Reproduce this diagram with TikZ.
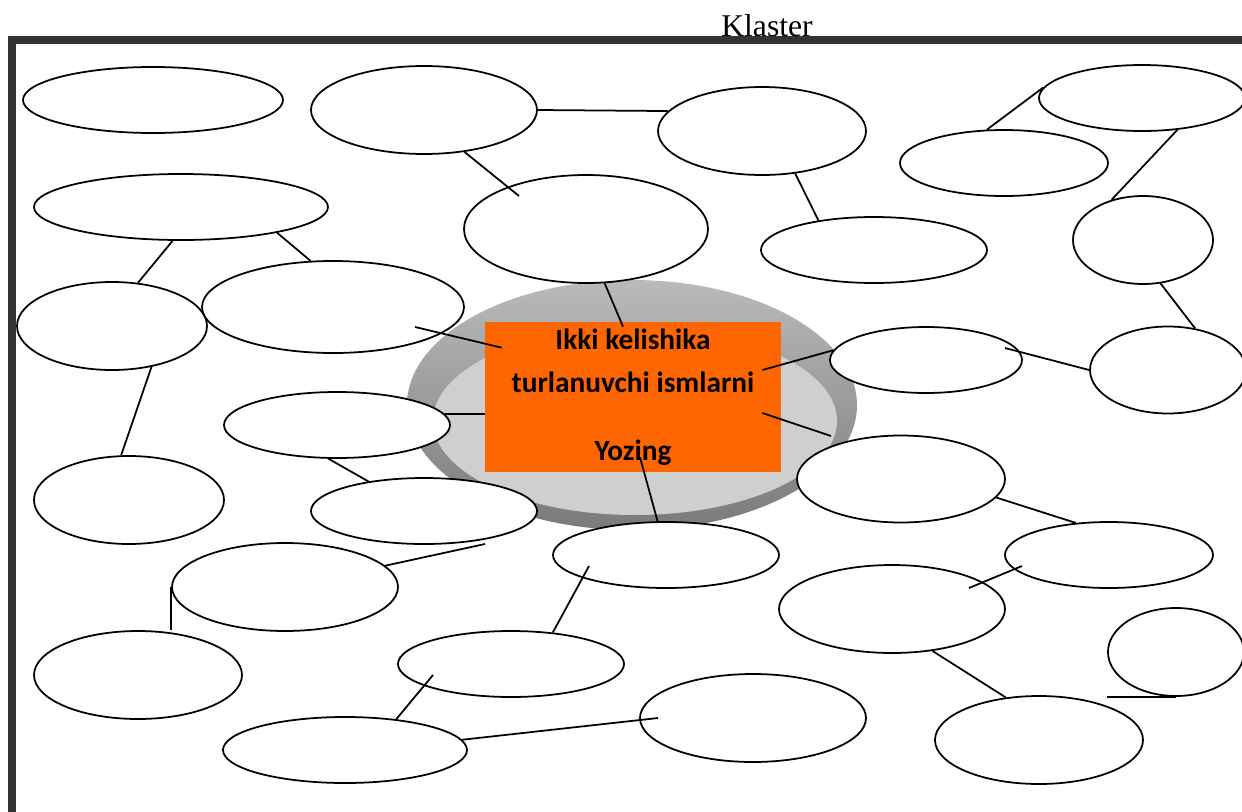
\documentclass[tikz,border=0pt]{standalone}
\usepackage{fontspec}
\setmainfont{Liberation Serif}
\newfontfamily\taskfont{Carlito}
\usetikzlibrary{shapes.geometric}
\definecolor{taskorange}{HTML}{FF6600}
\begin{document}
\begin{tikzpicture}[%
                x=0.02cm, y=-0.02cm,
                myoval/.style 2 args={shape=ellipse, draw, fill=white, line width=1pt, inner sep=0pt,
                    minimum width=#1*0.02cm, minimum height=#2*0.02cm},
                mytask/.style={shape=rectangle, fill=taskorange, inner sep=0pt,
                    minimum width=296*0.02cm, minimum height=150*0.02cm, align=center,
                    font=\taskfont\bfseries\fontsize{16.7}{24.5}\selectfont},
                mylink/.style={line width=1pt}
            ]
            \useasboundingbox (0,0) rectangle (1242,812);
            \clip (0,0) rectangle (1242,812);
            \draw [line width=4.3pt, color=black!80] (12,40) rectangle (1262,840);
            \node [font=\fontsize{18}{20}\selectfont, anchor=base, inner sep=0pt] (title) at (767,36) {Klaster};
            % the dish behind the task
            \draw [top color=black!27, bottom color=black!52, draw=none] (632,405) ellipse [x radius=225, y radius=125];
            \fill [black!19] (635,421) ellipse [x radius=202, y radius=94];
            % empty ovals
            \foreach \myname/\myx/\myy/\myw/\myh in {b1/153/100/260/66, b2/424/110/226/88, b3/762/131/208/88,
                    b4/1142/98/206/66, b5/1004/163/208/66, b6/181/207/294/66, b7/586/229/244/108,
                    b8/874/250/226/66, b9/1143/240/140/88, b10/112/326/190/88, b11/333/307/262/92,
                    b12/926/360/192/66, b13/1168/370/156/87, b14/337/425/226/66, b15/129/500/190/88,
                    b16/901/479/208/87, b17/424/511/226/66, b18/666/555/226/66, b19/1109/555/208/66,
                    b20/285/587/226/88, b21/892/609/226/88, b22/1176/652/136/88, b23/138/675/208/88,
                    b24/511/664/226/66, b25/753/718/226/88, b26/345/750/244/66, b27/1039/740/208/88}
                \node [myoval={\myw}{\myh}] (\myname) at (\myx,\myy) {};
            \node [mytask] (task) at (633,397) {Ikki kelishika\\turlanuvchi ismlarni\\[14pt]Yozing};
            % links
            \draw [mylink] (b2.0) -- (b3.168);
            \draw [mylink] (b2.-46) -- ([shift={(-67,-33)}]b7.center);
            \draw [mylink] (b3.-52) -- (b8.152);
            \draw [mylink] (b5.117) -- (b4.174);
            \draw [mylink] (b4.-42) -- (b9.128);
            \draw [mylink] (b9.-68) -- (b13.57);
            \draw [mylink] (b10.59) -- (b6.-104);
            \draw [mylink] (b6.-15) -- (b11.116);
            \draw [mylink] ([shift={(82,20)}]b11.center) -- ([shift={(17,26)}]task.north west);
            \draw [mylink] (b7.-71) -- ([shift={(-10,5)}]task.north);
            \draw [mylink] ([shift={(-19,-27)}]task.east) -- (b12.174);
            \draw [mylink] ([shift={(79,-12)}]b12.center) -- (b13.west);
            \draw [mylink] ([shift={(-19,16)}]task.east) -- ([shift={(-70,-43)}]b16.center);
            \draw [mylink] (b14.6) -- (b14.6 -| task.west);
            \draw [mylink] (b10.-46) -- (b15.100);
            \draw [mylink] (b14.-104) -- (b17.152);
            \draw [mylink] ([shift={(7,-15)}]task.south) -- (b18.104);
            \draw [mylink] (b20.12) -- ([shift={(61,33)}]b17.center);
            \draw [mylink] (b20.west) -- (b20.west |- b23.north);
            \draw [mylink] ([shift={(-77,11)}]b18.center) -- (b24.37);
            \draw [mylink] (b16.-11) -- (b19.136);
            \draw [mylink] ([shift={(-87,11)}]b19.center) -- ([shift={(77,-21)}]b21.center);
            \draw [mylink] (b21.-46) -- (b27.128);
            \draw [mylink] (b22.south) -- (b22.south -| b22.west);
            \draw [mylink] ([shift={(-78,11)}]b24.center) -- (b26.31);
            \draw [mylink] (b26.5) -- ([shift={(-95,0)}]b25.center);
        \end{tikzpicture}
\end{document}
